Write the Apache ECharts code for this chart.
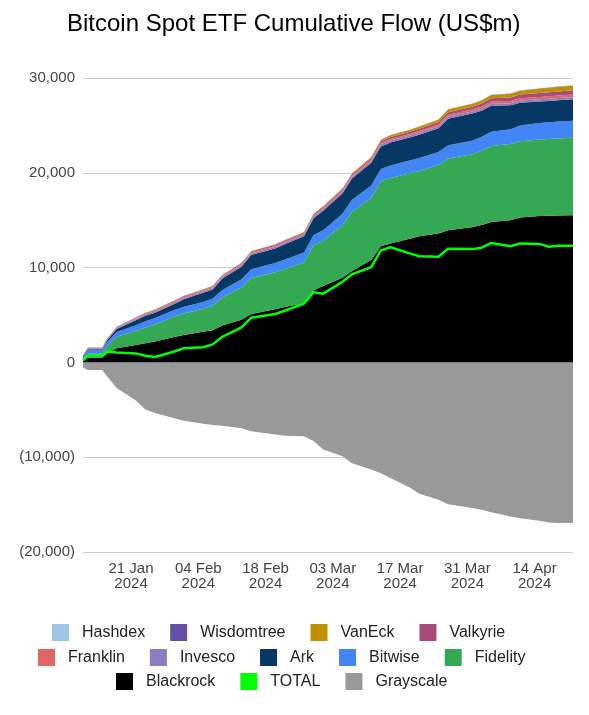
<!DOCTYPE html>
<html>
<head>
<meta charset="utf-8">
<script src="https://cdn.jsdelivr.net/npm/echarts@6/dist/echarts.min.js"></script>
<style>
html,body{margin:0;padding:0;background:#fff;}
#chart{width:589px;height:715px;}
</style>
</head>
<body>
<div id="chart"></div>
<script>
const dates = ['2024-01-11','2024-01-12','2024-01-15','2024-01-16','2024-01-18','2024-01-22','2024-01-24','2024-01-26','2024-01-30','2024-02-01','2024-02-05','2024-02-07','2024-02-09','2024-02-13','2024-02-15','2024-02-20','2024-02-22','2024-02-26','2024-02-28','2024-03-01','2024-03-05','2024-03-07','2024-03-11','2024-03-13','2024-03-15','2024-03-19','2024-03-21','2024-03-25','2024-03-27','2024-04-01','2024-04-03','2024-04-05','2024-04-09','2024-04-11','2024-04-15','2024-04-17','2024-04-19','2024-04-22'];

const blackrock = [110,500,500,900,1500,1830,2020,2200,2680,2900,3220,3380,3880,4500,5100,5600,5850,6250,7600,8050,8930,9650,10800,12250,12550,13050,13300,13590,13950,14250,14500,14820,15000,15280,15450,15480,15500,15520];
const fidelity = [230,420,420,800,1200,1490,1670,1800,2160,2250,2430,2620,2970,3400,3800,3900,4000,4300,4750,4750,5550,6250,6550,6850,6900,6900,6900,7220,7550,7700,7850,8000,8050,8050,8050,8080,8120,8170];
const bitwise = [240,360,360,420,500,600,650,680,700,710,720,730,800,870,920,980,1000,1030,1080,1150,1200,1250,1300,1300,1320,1350,1370,1380,1400,1420,1450,1500,1550,1650,1750,1780,1790,1790];
const ark = [70,110,110,200,320,530,580,570,620,790,970,960,1190,1330,1520,1540,1610,1720,1780,2050,2130,2240,2400,2380,2430,2420,2450,2500,2800,2880,2750,2750,2520,2420,2270,2240,2250,2270];
const invesco = [50,80,80,95,105,130,140,145,148,150,152,153,154,156,158,162,164,166,170,175,180,185,190,195,200,205,208,212,215,218,220,222,224,225,227,228,229,230];
const franklin = [40,55,55,65,75,90,95,100,102,104,106,107,108,110,112,116,118,120,124,130,135,140,150,160,170,180,185,200,210,220,228,235,242,248,256,260,265,270];
const valkyrie = [12,20,20,25,30,50,60,65,68,72,76,78,81,86,90,100,104,108,115,125,135,145,165,185,200,215,225,255,270,290,305,330,355,375,405,420,435,450];
const vaneck = [5,12,12,12,16,25,30,34,36,38,40,41,41,42,43,45,47,49,53,61,70,80,103,145,192,210,220,258,279,294,319,362,396,418,455,474,492,510];
const wisdomtree = [3,3,3,3,4,5,5,6,6,6,6,6,6,6,7,7,7,7,8,9,10,10,12,13,15,17,18,20,21,22,22,24,26,27,29,30,31,32];
const hashdex = [0,0,0,0,0,0,0,0,0,0,0,0,0,0,0,0,0,0,0,0,0,0,0,2,3,3,4,5,5,6,6,7,7,7,8,8,8,8];
const grayscale = [-550,-800,-800,-1450,-2700,-4010,-4960,-5350,-5880,-6150,-6480,-6600,-6690,-6950,-7250,-7600,-7750,-7800,-8300,-9200,-9900,-10650,-11300,-11700,-12200,-13200,-13850,-14500,-14950,-15350,-15550,-15800,-16250,-16450,-16700,-16900,-16950,-16950];
const total = [250,760,760,1150,1050,950,700,570,1150,1500,1600,1900,2700,3700,4700,5100,5450,6200,7400,7250,8500,9300,10050,11800,12150,11500,11200,11150,12000,11950,12100,12600,12250,12550,12500,12200,12300,12300];

const xTickDates = ['2024-01-21','2024-02-04','2024-02-18','2024-03-03','2024-03-17','2024-03-31','2024-04-14'];
const yTicks = [-20000,-10000,0,10000,20000,30000];

const legendRow1 = ['Hashdex','Wisdomtree','VanEck','Valkyrie'];
const legendRow2 = ['Franklin','Invesco','Ark','Bitwise','Fidelity'];
const legendRow3 = ['Blackrock','TOTAL','Grayscale'];

const colors = {
  Hashdex:'#9fc5e8', Wisdomtree:'#674ea7', VanEck:'#bf9000', Valkyrie:'#a64d79',
  Franklin:'#e06666', Invesco:'#8e7cc3', Ark:'#073763', Bitwise:'#4285f4',
  Fidelity:'#34a853', Blackrock:'#000000', TOTAL:'#00ff00', Grayscale:'#999999'
};

function ts(s){ const p = s.split('-').map(Number); return new Date(p[0], p[1]-1, p[2]).getTime(); }
const MONTHS = ['Jan','Feb','Mar','Apr','May','Jun','Jul','Aug','Sep','Oct','Nov','Dec'];
function pad2(n){ return (n<10?'0':'')+n; }
function fmtNum(v){ return String(Math.round(v)).replace(/\B(?=(\d{3})+(?!\d))/g, ','); }

const FONT = 'Arial, "Liberation Sans", sans-serif';

function stackSeries(name, vals){
  return {
    name: name, type: 'line', stack: 'pos', symbol: 'none', showSymbol: false,
    xAxisIndex: 0,
    data: dates.map((d,i)=>[ts(d), vals[i]]),
    lineStyle: {width: 0, color: colors[name]},
    itemStyle: {color: colors[name]},
    areaStyle: {color: colors[name], opacity: 1},
    emphasis: {disabled: true},
    z: 2
  };
}

const series = [
  stackSeries('Blackrock', blackrock),
  stackSeries('Fidelity', fidelity),
  stackSeries('Bitwise', bitwise),
  stackSeries('Ark', ark),
  stackSeries('Invesco', invesco),
  stackSeries('Franklin', franklin),
  stackSeries('Valkyrie', valkyrie),
  stackSeries('VanEck', vaneck),
  stackSeries('Wisdomtree', wisdomtree),
  stackSeries('Hashdex', hashdex),
  {
    name: 'Grayscale', type: 'line', symbol: 'none', showSymbol: false,
    xAxisIndex: 0,
    data: dates.map((d,i)=>[ts(d), grayscale[i]]),
    lineStyle: {width: 0, color: colors.Grayscale},
    itemStyle: {color: colors.Grayscale},
    areaStyle: {color: colors.Grayscale, opacity: 1},
    emphasis: {disabled: true},
    z: 2
  },
  {
    name: 'TOTAL', type: 'line', symbol: 'none', showSymbol: false,
    xAxisIndex: 0,
    data: dates.map((d,i)=>[ts(d), total[i]]),
    lineStyle: {width: 2.5, color: colors.TOTAL},
    itemStyle: {color: colors.TOTAL},
    emphasis: {disabled: true},
    z: 5
  }
];

function legendRow(data, left, top){
  return {
    data: data, left: left, top: top, orient: 'horizontal', padding: 0,
    icon: 'rect', itemWidth: 17, itemHeight: 17, itemGap: 25,
    selectedMode: false,
    textStyle: {fontSize: 16, color: '#222', fontFamily: FONT, padding: [0,0,0,8]}
  };
}

const minX = ts(dates[0]), maxX = ts(dates[dates.length-1]);

const chart = echarts.init(document.getElementById('chart'), null, {renderer: 'canvas'});
chart.setOption({
  animation: false,
  backgroundColor: '#ffffff',
  title: {
    text: 'Bitcoin Spot ETF Cumulative Flow (US$m)',
    left: 62, top: 7,
    textStyle: {fontSize: 24, fontWeight: 'normal', color: '#000', fontFamily: FONT}
  },
  legend: [
    legendRow(legendRow1, 52, 624),
    legendRow(legendRow2, 38, 649),
    legendRow(legendRow3, 116, 673)
  ],
  grid: {left: 83, right: 16, top: 78, bottom: 163, containLabel: false},
  xAxis: [
    {
      type: 'time', min: minX, max: maxX,
      axisLine: {show: false}, axisTick: {show: false}, splitLine: {show: false},
      axisLabel: {show: false}
    },
    {
      type: 'value', min: minX, max: maxX, position: 'bottom',
      axisLine: {show: false}, axisTick: {show: false}, splitLine: {show: false},
      axisLabel: {
        customValues: xTickDates.map(ts),
        color: '#444', fontSize: 15, lineHeight: 15, margin: 9, fontFamily: FONT,
        formatter: function(v){ const d = new Date(v); return pad2(d.getDate()) + ' ' + MONTHS[d.getMonth()] + '\n' + d.getFullYear(); }
      }
    }
  ],
  yAxis: {
    type: 'value', min: yTicks[0], max: yTicks[yTicks.length-1], interval: 10000,
    axisLine: {show: false}, axisTick: {show: false},
    splitLine: {show: true, lineStyle: {color: '#cccccc', width: 1}},
    axisLabel: {
      color: '#444', fontSize: 15, margin: 8, fontFamily: FONT,
      formatter: function(v){ return v < 0 ? '(' + fmtNum(-v) + ')' : fmtNum(v); }
    }
  },
  series: series
});
</script>
</body>
</html>
